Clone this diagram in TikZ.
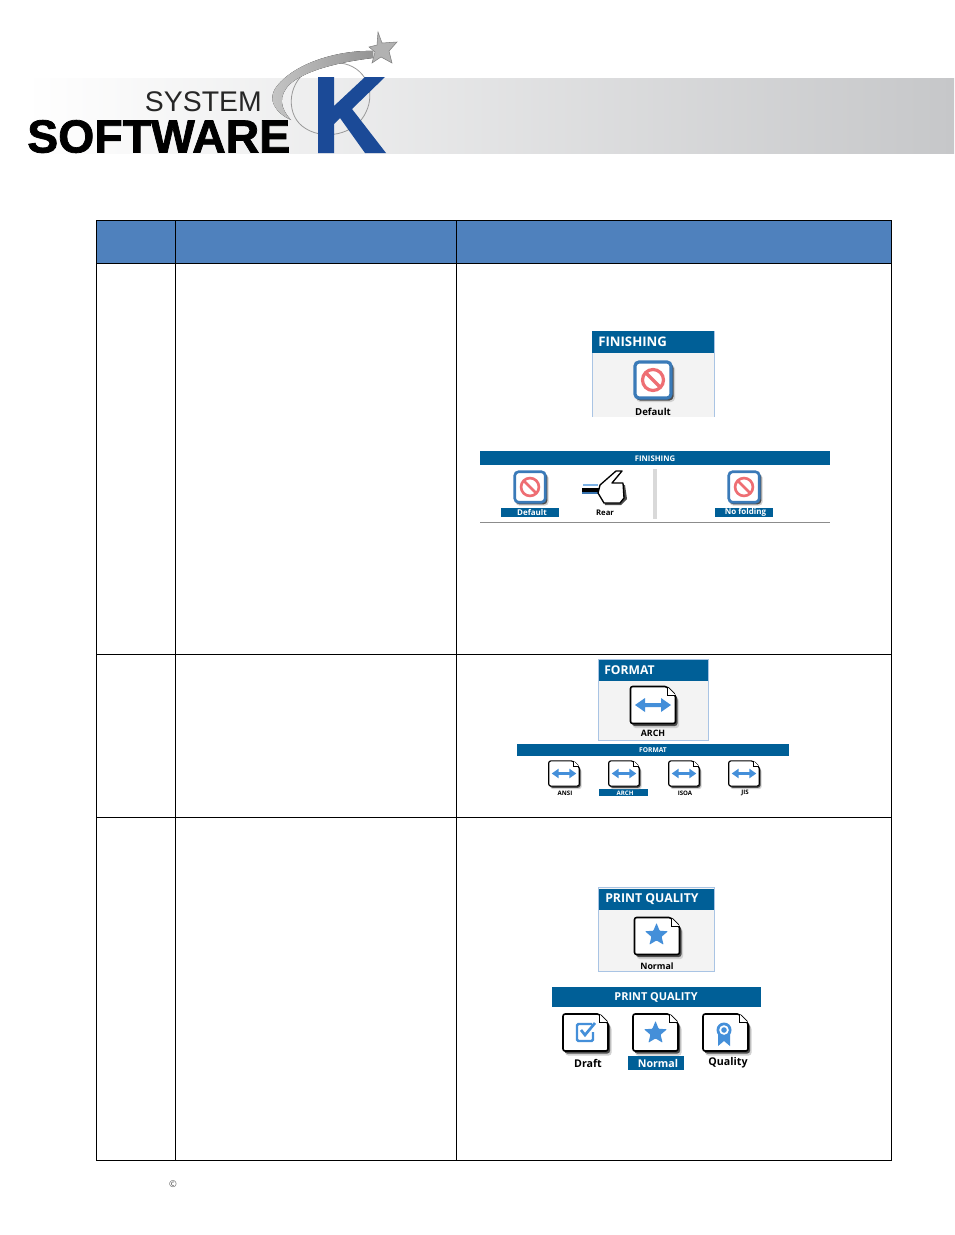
\documentclass[tikz,border=0pt]{standalone}
\usepackage{fontspec}
\setmainfont{Open Sans}
\newfontfamily\logofont{Liberation Sans}
\newfontfamily\logoheavy[FakeBold=1.6]{Liberation Sans Bold}
\usetikzlibrary{arrows.meta, positioning, calc}
\definecolor{headblue}{HTML}{4F81BD}
\definecolor{panelblue}{HTML}{005F97}
\definecolor{panelline}{HTML}{A9C4E4}
\definecolor{panelfill}{HTML}{F3F3F3}
\definecolor{iconblue}{HTML}{448FD9}
\definecolor{nored}{HTML}{EE6E73}
\definecolor{kblue}{HTML}{1B4A97}
\definecolor{bandmid}{HTML}{DDDFE1}
\definecolor{bandend}{HTML}{C6C7C9}
\newcommand{\iconlw}{1.2pt}
\tikzset{
	paneltitle/.style={text=white, font=\bfseries\fontsize{#1}{#1}\selectfont, inner sep=0pt},
	icontext/.style={text=black, font=\bfseries\fontsize{#1}{#1}\selectfont, inner sep=0pt},
	seltext/.style={text=white, font=\bfseries\fontsize{#1}{#1}\selectfont, inner sep=0pt},
	blueband/.style={fill=panelblue, draw=none},
	docicon/.pic={
		% Shadow, then sheet
		\fill[black!18, rounded corners=2pt] (-21,-15) -- (16,-15) -- (26,-6) -- (26,23) -- (-20,23) -- cycle;
		\fill[black!70, rounded corners=2pt] (-21,-16) -- (15,-16) -- (24.5,-8) -- (24.5,21) -- (-21,21) -- cycle;
		\filldraw[fill=white, draw=black, line width=\iconlw, rounded corners=1.6pt] (-22.5,-18.5) -- (14,-18.5) -- (22.5,-10) -- (22.5,18.5) -- (-22.5,18.5) -- cycle;
		\filldraw[fill=white, draw=black, line width=0.5pt] (14,-18.5) -- (14,-10) -- (22.5,-10);
	},
	nosign/.pic={
		% Framed stop sign
		\fill[black!18, rounded corners=3pt] (-17,-15) rectangle (22,22);
		\fill[black!70, rounded corners=3pt] (-17,-16) rectangle (20.5,20.5);
		\filldraw[fill=white, draw=iconblue!85!black, line width=2*\iconlw, rounded corners=3pt] (-18,-18) rectangle (18,18);
		\draw[nored, line width=2*\iconlw] (0,0) circle (10.5);
		\draw[nored, line width=2*\iconlw] (-7.4,-7.4) -- (7.4,7.4);
	},
	wayarrow/.pic={
		\fill[iconblue] (-18,0) -- (-8,-7) -- (-8,-2) -- (8,-2) -- (8,-7) -- (18,0) -- (8,7) -- (8,2) -- (-8,2) -- (-8,7) -- cycle;
	},
	stararrow/.pic={
		\fill[iconblue, rounded corners=0.5pt] (0,-12) -- (3.1,-4.3) -- (11.4,-3.7) -- (5.1,1.7) -- (7.1,9.7) -- (0,5.4) -- (-7.1,9.7) -- (-5.1,1.7) -- (-11.4,-3.7) -- (-3.1,-4.3) -- cycle;
	}
}
\begin{document}
\begin{tikzpicture}[x=0.75pt, y=-0.75pt]
	\useasboundingbox (0,0) rectangle (954,1235);
	% Banner
	\fill[left color=white, middle color=bandmid, right color=bandend] (25,78) rectangle (954,153);
	% Swoosh
	\draw[black!40, line width=0.6pt] (340,63) .. controls (366,66) and (376,92) .. (366,112) .. controls (356,135) and (322,142) .. (302,126) .. controls (285,112) and (288,80) .. (312,68);
	\fill[left color=black!22, right color=black!42] (373,51) .. controls (340,50) and (296,62) .. (277,86) .. controls (266,100) and (276,113) .. (291,120) .. controls (280,108) and (278,96) .. (290,84) .. controls (306,70) and (340,62) .. (373,58) -- cycle;
	\filldraw[fill=black!30, draw=black!50, line width=0.4pt] (378,32) -- (382,43) -- (397,42) -- (389,51) -- (392,63) -- (381,57) -- (372,63) -- (375,52) -- (369,47) -- (377,45) -- cycle;
	% K
	\fill[kblue] (318,77) -- (334,77) -- (334,106) -- (365,77) -- (385,77) -- (352,109) -- (386,153) -- (365,153) -- (340,118) -- (334,124) -- (334,153) -- (318,153) -- cycle;
	\node[anchor=base east, inner sep=0pt, text=black!85, font=\logofont\fontsize{21.3}{21.3}\selectfont] (systemtext) at (262,111) {SYSTEM};
	\node[anchor=base west, inner sep=0pt, font=\logoheavy\fontsize{34.8}{34.8}\selectfont] (softwaretext) at (27,152.5) {SOFTWARE};
	% Table
	\fill[headblue] (96,220) rectangle (891,263);
	\draw[black, line width=0.75pt] (96,220) rectangle (891,1160);
	\foreach \rowy in {263,654,817}
		\draw[black, line width=0.75pt] (96,\rowy) -- (891,\rowy);
	\draw[black, line width=0.75pt] (175,220) -- (175,1160);
	\draw[black, line width=0.75pt] (456,220) -- (456,1160);
	% Finishing panel
	\fill[panelfill] (592,331) rectangle (714,417);
	\draw[panelline, line width=0.75pt] (592,417) -- (592,331) -- (714,331) -- (714,417);
	\fill[blueband] (592,331) rectangle (714,353);
	\node[paneltitle=9.9, anchor=west] (finishtitle) at (598,342) {FINISHING};
	\pic at (653,380) {nosign};
	\node[icontext=7.2] (finishval) at (653,411.5) {Default};
	% Finishing list
	\fill[blueband] (480,451) rectangle (830,465);
	\node[paneltitle=5.8] (finishhead) at (655,458.5) {FINISHING};
	\renewcommand{\iconlw}{1pt}
	\pic[scale=0.85] at (530,487) {nosign};
	\pic[scale=0.85] at (744,487) {nosign};
	\fill[blueband] (501,507.5) rectangle (559,517);
	\node[seltext=6] (finishdef) at (532,512.5) {Default};
	\fill[blueband] (715,507.5) rectangle (773,517);
	\node[seltext=6] (finishno) at (745.5,512.5) {No folding};
	\node[icontext=5.8] (finishrear) at (605,512.5) {Rear};
	% Hand
	\fill[iconblue!70] (583,484) rectangle (598,486);
	\fill[black] (582,488) rectangle (600,492);
	\fill[iconblue!80!black] (582,492) rectangle (600,494);
	\fill[black!70] (603,487) -- (625,485) -- (627,499) -- (621,505) -- (605,505) -- cycle;
	\filldraw[fill=white, draw=black, line width=1pt, line join=round] (616,471) -- (622,471) -- (612,483) -- (623,483) -- (624,498) -- (620,503) -- (604,503) -- (598,493) -- (600,485) -- cycle;
	\fill[black!15] (653,469) rectangle (657,519);
	\draw[black!45, line width=0.75pt] (480,522) -- (830,522);
	% Format panel
	\renewcommand{\iconlw}{1.2pt}
	\filldraw[fill=panelfill, draw=panelline, line width=0.9pt] (598.5,659.5) rectangle (708.5,740.5);
	\fill[blueband] (599,660) rectangle (708,681);
	\node[paneltitle=9.1, anchor=west] (formattitle) at (604,670) {FORMAT};
	\pic at (653,705) {docicon};
	\pic at (653,705) {wayarrow};
	\node[icontext=6.6] (formatval) at (653,733.5) {ARCH};
	% Format list
	\fill[blueband] (517,744) rectangle (789,756);
	\node[paneltitle=5] (formathead) at (653,750) {FORMAT};
	\fill[blueband] (599,789) rectangle (648,796);
	\renewcommand{\iconlw}{0.85pt}
	\foreach \iconx/\iconname/\iconcol in {565/ANSI/icontext, 625/ARCH/seltext, 685/ISOA/icontext, 745/JIS/icontext} {
		\pic[scale=0.68] at (\iconx-1,773.5) {docicon};
		\pic[scale=0.68] at (\iconx-1,773.5) {wayarrow};
		\node[\iconcol=4.6] (fmt\iconname) at (\iconx,793) {\iconname};
	}
	% Quality panel
	\renewcommand{\iconlw}{1.2pt}
	\filldraw[fill=panelfill, draw=panelline, line width=0.9pt] (598.5,887.5) rectangle (714.5,971.5);
	\fill[blueband] (599,889) rectangle (714,910);
	\node[paneltitle=9.2, anchor=west] (qualitytitle) at (605,899) {PRINT QUALITY};
	\pic at (657,936) {docicon};
	\pic at (656.5,935) {stararrow};
	\node[icontext=6.6] (qualityval) at (657,966.5) {Normal};
	% Quality list
	\fill[blueband] (552,987) rectangle (761,1007);
	\node[paneltitle=8.2] (qualityhead) at (656,997.5) {PRINT QUALITY};
	\pic at (585.5,1032.5) {docicon};
	\pic at (655.5,1032.5) {docicon};
	\pic at (725.5,1032.5) {docicon};
	\draw[iconblue, line width=1.8pt, rounded corners=1pt] (592,1024) -- (577,1024) -- (577,1041) -- (593,1041) -- (593,1032);
	\draw[iconblue, line width=2pt] (581,1030) -- (585,1035) -- (595,1023);
	\pic at (655.5,1033) {stararrow};
	% Ribbon
	\fill[iconblue] (718,1032) -- (718,1046) -- (724,1041) -- (730,1046) -- (730,1032) -- cycle;
	\fill[iconblue] (724,1030) circle (7.5);
	\fill[white] (724,1030) circle (4.8);
	\fill[iconblue] (724,1030) circle (2.8);
	\fill[blueband] (628,1056) rectangle (684,1070);
	\node[icontext=8] (qualitydraft) at (588,1063) {Draft};
	\node[seltext=8] (qualitynorm) at (658,1063) {Normal};
	\node[icontext=8] (qualityqual) at (728,1063) {Quality};
	% Footer
	\node[text=black!70, inner sep=0pt, font=\fontsize{7}{7}\selectfont] (copymark) at (173,1184) {©};
\end{tikzpicture}
\end{document}
